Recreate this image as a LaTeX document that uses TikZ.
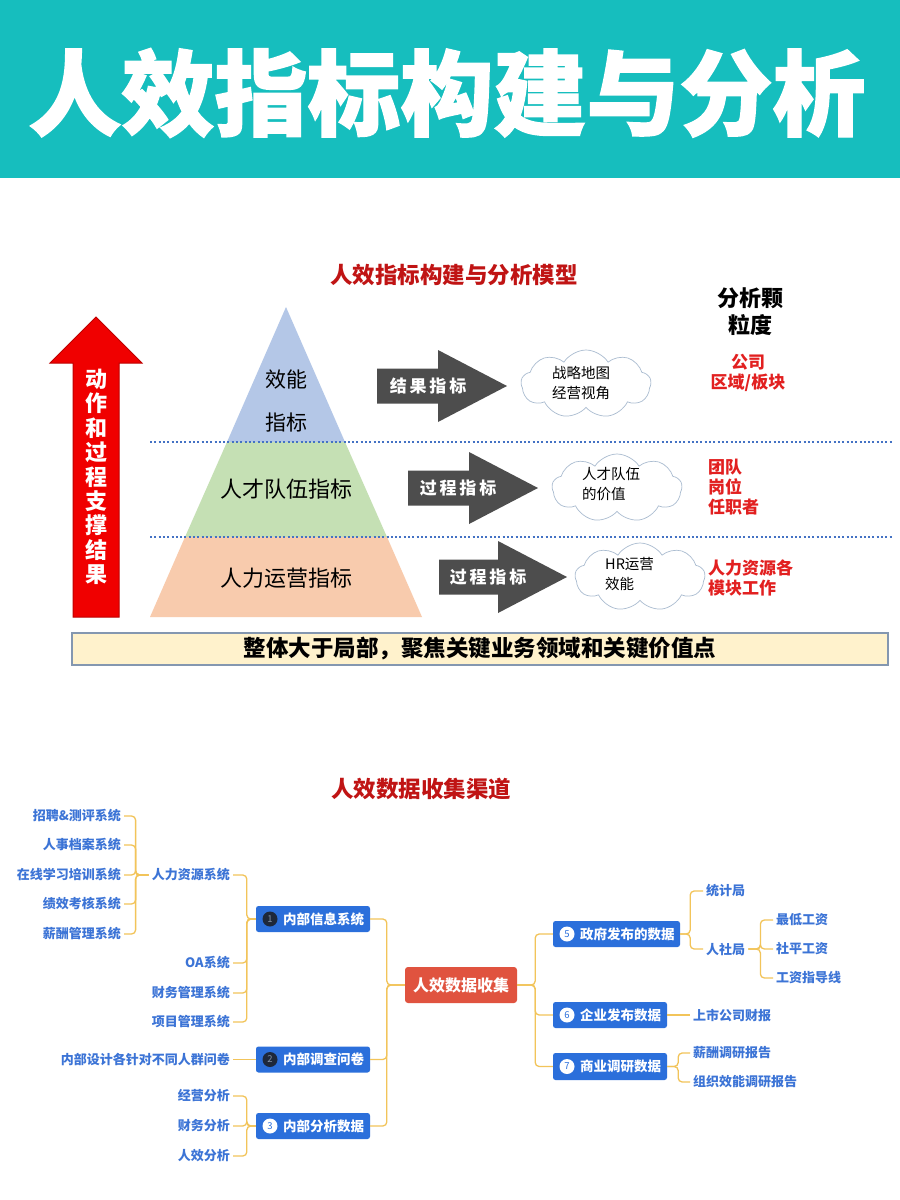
\documentclass[tikz,border=0pt]{standalone}
\usepackage{fontspec}
\setmainfont{Noto Sans CJK SC}
\newfontfamily\heavy{Noto Sans CJK SC}[BoldFeatures={FakeBold=1.5}]
\usetikzlibrary{shapes.symbols,calc}
\definecolor{headc}{RGB}{22,190,190}
\definecolor{redA}{RGB}{240,0,0}
\definecolor{redB}{RGB}{190,0,0}
\definecolor{subred}{RGB}{192,20,20}
\definecolor{brred}{RGB}{226,32,32}
\definecolor{pyB}{RGB}{180,199,231}
\definecolor{pyG}{RGB}{197,224,180}
\definecolor{pyO}{RGB}{248,203,173}
\definecolor{dotc}{RGB}{68,114,196}
\definecolor{darrow}{RGB}{77,77,77}
\definecolor{cloudc}{RGB}{170,188,208}
\definecolor{barc}{RGB}{255,242,204}
\definecolor{barb}{RGB}{132,151,176}
\definecolor{boxc}{RGB}{43,111,219}
\definecolor{leafc}{RGB}{60,116,214}
\definecolor{rootc}{RGB}{224,83,63}
\definecolor{connc}{RGB}{242,196,90}
\definecolor{numdark}{RGB}{30,40,58}
\definecolor{numgray}{RGB}{130,145,165}
\tikzset{
  leaf/.style={font=\bfseries\fontsize{13}{15}\selectfont, text=leafc, inner sep=3pt},
  mbox/.style={fill=boxc, rounded corners=2.5pt, minimum height=26pt, inner sep=0pt},
  num/.style={circle, inner sep=0pt, minimum size=15pt, font=\fontsize{9.5}{9.5}\selectfont},
  numw/.style={num, fill=white, text=boxc},
  numd/.style={num, fill=numdark, text=numgray},
  btxt/.style={text=white, font=\bfseries\fontsize{13.5}{15}\selectfont, inner sep=0pt, anchor=west},
  conn/.style={draw=connc, line width=1.3pt, rounded corners=4pt},
  atxt/.style={text=white, font=\bfseries\fontsize{17}{19}\selectfont, inner sep=0pt},
  ptxt/.style={font=\fontsize{22}{24}\selectfont, inner sep=0pt},
  ctxt/.style={font=\fontsize{14.5}{20}\selectfont, inner sep=0pt, align=left, anchor=west},
  cloudshape/.style={cloud, cloud puffs=9, cloud puff arc=115, draw=cloudc, line width=0.7pt, fill=white, minimum width=130pt, minimum height=68pt, inner sep=0pt},
  rtxt/.style={text=brred, font=\bfseries\fontsize{17}{20}\selectfont, inner sep=0pt},
  dotline/.style={draw=dotc, line width=2pt, dash pattern=on 2pt off 2.3pt},
}
\begin{document}
\begin{tikzpicture}[x=1pt,y=-1pt]
\useasboundingbox (0,0) rectangle (900,1200);
\fill[white] (0,0) rectangle (900,1200);
% header
\fill[headc] (0,0) rectangle (900,178);
\node[text=white, font=\heavy\bfseries\fontsize{93}{100}\selectfont, inner sep=0pt] (title) at (447,93) {人效指标构建与分析};

% model subtitle
\node[text=subred, font=\bfseries\fontsize{22.5}{24}\selectfont, inner sep=0pt] (sub1) at (454,275) {人效指标构建与分析模型};

% red up arrow
\filldraw[fill=redA, draw=redB, line width=1pt] (96,317) -- (142,363) -- (119,363) -- (119,617) -- (73,617) -- (73,363) -- (50,363) -- cycle;
\node[text=white, font=\bfseries\fontsize{22}{24.4}\selectfont, align=center, inner sep=0pt] (vt) at (96,477) {动\\作\\和\\过\\程\\支\\撑\\结\\果};

% pyramid
\fill[pyB] (286,307) -- (345,442) -- (227,442) -- cycle;
\fill[pyG] (227,442) -- (345,442) -- (387,537) -- (185,537) -- cycle;
\fill[pyO] (185,537) -- (387,537) -- (422,617) -- (150,617) -- cycle;
\path[dotline] (150,442) -- (893,442);
\path[dotline] (150,537) -- (893,537);
\node[font=\fontsize{21}{23}\selectfont, inner sep=0pt] (p1a) at (286,380) {效能};
\node[font=\fontsize{21}{23}\selectfont, inner sep=0pt] (p1b) at (286,423) {指标};
\node[ptxt] (p2) at (286,489) {人才队伍指标};
\node[ptxt] (p3) at (286,578) {人力运营指标};

% dark arrows
\fill[darrow] (377,368.5) -- (438,368.5) -- (438,350) -- (507,386) -- (438,422) -- (438,403.5) -- (377,403.5) -- cycle;
\node[atxt] (a1) at (428,386) {结\,果\,指\,标};
\fill[darrow] (408,470.5) -- (469,470.5) -- (469,452) -- (538,488) -- (469,524) -- (469,505.5) -- (408,505.5) -- cycle;
\node[atxt] (a2) at (458,488) {过\,程\,指\,标};
\fill[darrow] (439,559.5) -- (498,559.5) -- (498,541) -- (567,577) -- (498,613) -- (498,594.5) -- (439,594.5) -- cycle;
\node[atxt] (a3) at (488,577) {过\,程\,指\,标};

% clouds
\node[cloudshape] (c1) at (586,384) {};
\node[ctxt] (c1t) at (552,383.5) {战略地图\\经营视角};
\node[cloudshape] (c2) at (617,488) {};
\node[ctxt] (c2t) at (582,484) {人才队伍\\的价值};
\node[cloudshape] (c3) at (640,577) {};
\node[ctxt] (c3t) at (605,574) {HR运营\\效能};

% right column
\node[font=\bfseries\fontsize{22}{27}\selectfont, align=center, inner sep=0pt] (gran) at (750,311.5) {分析颗\\粒度};
\node[rtxt, align=center] (r1) at (748,373) {公司\\区域/板块};
\node[rtxt, align=left, anchor=west] (r2) at (708,487) {团队\\岗位\\任职者};
\node[rtxt, align=left, anchor=west] (r3) at (708,578) {人力资源各\\模块工作};

% bar
\node[fill=barc, draw=barb, line width=1.2pt, minimum width=816pt, minimum height=32pt, inner sep=0pt, font=\bfseries\fontsize{22.5}{24}\selectfont] (bar) at (480,649) {整体大于局部，聚焦关键业务领域和关键价值点};

% second subtitle
\node[text=subred, font=\bfseries\fontsize{22.5}{24}\selectfont, inner sep=0pt] (sub2) at (421,789) {人效数据收集渠道};

% mind map: root
\node[fill=rootc, rounded corners=3pt, minimum width=112pt, minimum height=36pt, inner sep=0pt, text=white, font=\bfseries\fontsize{16}{18}\selectfont] (root) at (461,985) {人效数据收集};

% left boxes
\node[mbox, minimum width=114pt] (b1) at (313,919) {};
\node[numd] (n1) at (270,919) {1};
\node[btxt] (t1) at (283,919) {内部信息系统};
\node[mbox, minimum width=114pt] (b2) at (313,1059.5) {};
\node[numd] (n2) at (270,1059.5) {2};
\node[btxt] (t2) at (283,1059.5) {内部调查问卷};
\node[mbox, minimum width=114pt] (b3) at (313,1126) {};
\node[numw] (n3) at (270,1126) {3};
\node[btxt] (t3) at (283,1126) {内部分析数据};

% right boxes
\node[mbox, minimum width=127pt] (b5) at (616.5,934) {};
\node[numw] (n5) at (567,934) {5};
\node[btxt] (t5) at (580,934) {政府发布的数据};
\node[mbox, minimum width=114pt] (b6) at (610,1015) {};
\node[numw] (n6) at (567,1015) {6};
\node[btxt] (t6) at (580,1015) {企业发布数据};
\node[mbox, minimum width=114pt, minimum height=27pt] (b7) at (610,1066.5) {};
\node[numw] (n7) at (567,1066.5) {7};
\node[btxt] (t7) at (580,1066.5) {商业调研数据};

% left leaves
\node[leaf, anchor=east] (l1) at (124,816) {招聘\&测评系统};
\node[leaf, anchor=east] (l2) at (124,845) {人事档案系统};
\node[leaf, anchor=east] (l3) at (124,875) {在线学习培训系统};
\node[leaf, anchor=east] (l4) at (124,904) {绩效考核系统};
\node[leaf, anchor=east] (l5) at (124,934) {薪酬管理系统};
\node[leaf, anchor=east] (hr) at (233,875) {人力资源系统};
\node[leaf, anchor=east] (oa) at (233,963) {OA系统};
\node[leaf, anchor=east] (cw) at (233,993) {财务管理系统};
\node[leaf, anchor=east] (xm) at (233,1022) {项目管理系统};
\node[leaf, anchor=east] (q) at (233,1059.5) {内部设计各针对不同人群问卷};
\node[leaf, anchor=east] (f1) at (233,1096) {经营分析};
\node[leaf, anchor=east] (f2) at (233,1126) {财务分析};
\node[leaf, anchor=east] (f3) at (233,1156) {人效分析};

% right leaves
\node[leaf, anchor=west] (tj) at (703,891) {统计局};
\node[leaf, anchor=west] (rsj) at (703,949) {人社局};
\node[leaf, anchor=west] (zd) at (773,920) {最低工资};
\node[leaf, anchor=west] (sp) at (773,949) {社平工资};
\node[leaf, anchor=west] (gz) at (773,978) {工资指导线};
\node[leaf, anchor=west] (ss) at (690,1015) {上市公司财报};
\node[leaf, anchor=west] (xc) at (690,1053) {薪酬调研报告};
\node[leaf, anchor=west] (zz) at (690,1082) {组织效能调研报告};

% connectors
\foreach \n in {l1,l2,l3,l4,l5} \draw[conn] (hr.west) -- ++(-13,0) |- (\n.east);
\foreach \n in {hr,oa,cw,xm} \draw[conn] (b1.west) -- ++(-9,0) |- (\n.east);
\draw[conn] (b2.west) -- (q.east);
\foreach \n in {f1,f2,f3} \draw[conn] (b3.west) -- ++(-9,0) |- (\n.east);
\foreach \n in {b1,b2,b3} \draw[conn] (root.west) -- ++(-18,0) |- (\n.east);
\foreach \n in {b5,b6,b7} \draw[conn] (root.east) -- ++(18,0) |- (\n.west);
\foreach \n in {tj,rsj} \draw[conn] (b5.east) -- ++(10,0) |- (\n.west);
\foreach \n in {zd,sp,gz} \draw[conn] (rsj.east) -- ++(12,0) |- (\n.west);
\draw[conn] (b6.east) -- (ss.west);
\foreach \n in {xc,zz} \draw[conn] (b7.east) -- ++(11,0) |- (\n.west);
\end{tikzpicture}
\end{document}
